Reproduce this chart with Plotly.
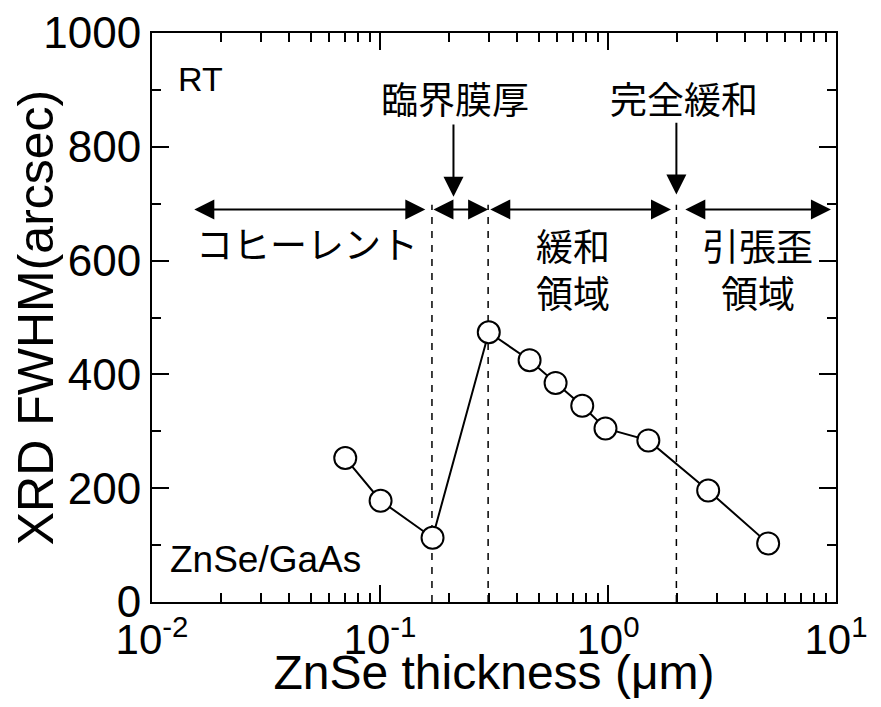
import numpy as np
import plotly.graph_objects as go

# data
thickness_um = [0.0704, 0.1006, 0.170, 0.300, 0.453, 0.589, 0.771, 0.975, 1.503, 2.75, 5.04]
fwhm_arcsec = [253, 178, 113, 474, 425, 385, 345, 305, 284, 196, 103]

boundaries_um = [0.169, 0.298, 1.995]
dash_top = 698

x_tickvals = [0.01, 0.1, 1, 10]
x_ticktext = ["10<sup>-2</sup>", "10<sup>-1</sup>", "10<sup>0</sup>", "10<sup>1</sup>"]
x_minor = [m * 10.0 ** e for e in (-2, -1, 0) for m in range(2, 10)]

# region arrows (start, end) in um at y level
region_arrows = [(0.0151, 0.158), (0.169, 0.298), (0.300, 1.89), (2.15, 9.5)]
arrow_y = 690
# down arrows: (x, y_tail, y_head)
down_arrows = [(0.21, 842, 712), (1.995, 845, 716)]

labels = [
    ("RT", 0.0127, 920, "left", 34),
    ("臨界膜厚", 0.214, 885, "center", 37),
    ("完全緩和", 2.15, 885, "center", 37),
    ("コヒーレント", 0.048, 631, "center", 37),
    ("緩和", 0.70, 628, "center", 37),
    ("領域", 0.70, 545, "center", 37),
    ("引張歪", 4.54, 628, "center", 37),
    ("領域", 4.54, 545, "center", 37),
    ("ZnSe/GaAs", 0.0117, 74, "left", 37),
]

LAT = "Liberation Sans, Arial, sans-serif"
CJK = "Noto Sans CJK JP, sans-serif"

fig = go.Figure()

for b in boundaries_um:
    fig.add_trace(go.Scatter(x=[b, b], y=[0, dash_top], mode="lines",
                             line=dict(color="black", width=1.5, dash="7px,7px"),
                             showlegend=False, hoverinfo="skip"))

fig.add_trace(go.Scatter(x=thickness_um, y=fwhm_arcsec, mode="lines+markers",
                         line=dict(color="black", width=2),
                         marker=dict(symbol="circle", size=22, color="white",
                                     line=dict(color="black", width=2)),
                         showlegend=False))

anns = []
for (a, b) in region_arrows:
    anns.append(dict(x=np.log10(b), y=arrow_y, ax=np.log10(a), ay=arrow_y,
                     xref="x", yref="y", axref="x", ayref="y", text="",
                     showarrow=True, arrowhead=2, startarrowhead=2,
                     arrowside="end+start", arrowsize=2.0, startarrowsize=2.0,
                     arrowwidth=2, arrowcolor="black"))
for (xv, yt, yh) in down_arrows:
    anns.append(dict(x=np.log10(xv), y=yh, ax=np.log10(xv), ay=yt,
                     xref="x", yref="y", axref="x", ayref="y", text="",
                     showarrow=True, arrowhead=2, arrowsize=2.0,
                     arrowwidth=2, arrowcolor="black"))
for (t, xv, yv, anc, fs) in labels:
    is_cjk = any(ord(c) > 0x2000 for c in t)
    anns.append(dict(x=np.log10(xv), y=yv, xref="x", yref="y", text=t,
                     showarrow=False, xanchor=anc, yanchor="middle",
                     font=dict(family=CJK if is_cjk else LAT, size=fs, color="black")))

# page body has an 8px margin; figure sized to fit the 881x707 window
fig.update_layout(
    width=865, height=691,
    margin=dict(l=144, r=37, t=25, b=97),
    paper_bgcolor="white", plot_bgcolor="white",
    annotations=anns,
    font=dict(family=LAT, color="black"),
)
fig.update_xaxes(type="log", range=[-2, 1], tickvals=x_tickvals, ticktext=x_ticktext,
                 ticks="inside", ticklen=17, tickwidth=1.5, tickcolor="black",
                 showline=True, linecolor="black", linewidth=2, mirror="allticks",
                 showgrid=False, zeroline=False, automargin=False,
                 minor=dict(tickvals=x_minor, ticks="inside", ticklen=9, tickwidth=1.5,
                            tickcolor="black", showgrid=False),
                 tickfont=dict(family=LAT, size=42),
                 title=dict(text="ZnSe thickness (μm)", font=dict(family=LAT, size=48), standoff=4))
fig.update_yaxes(range=[0, 1000], dtick=200, tick0=0,
                 ticks="inside", ticklen=17, tickwidth=1.5, tickcolor="black",
                 showline=True, linecolor="black", linewidth=2, mirror="allticks",
                 showgrid=False, zeroline=False, automargin=False,
                 minor=dict(dtick=100, ticks="inside", ticklen=9, tickwidth=1.5,
                            tickcolor="black", showgrid=False),
                 tickfont=dict(family=LAT, size=44),
                 title=dict(text="XRD FWHM(arcsec)", font=dict(family=LAT, size=50), standoff=2))

fig.write_html("out.html")
